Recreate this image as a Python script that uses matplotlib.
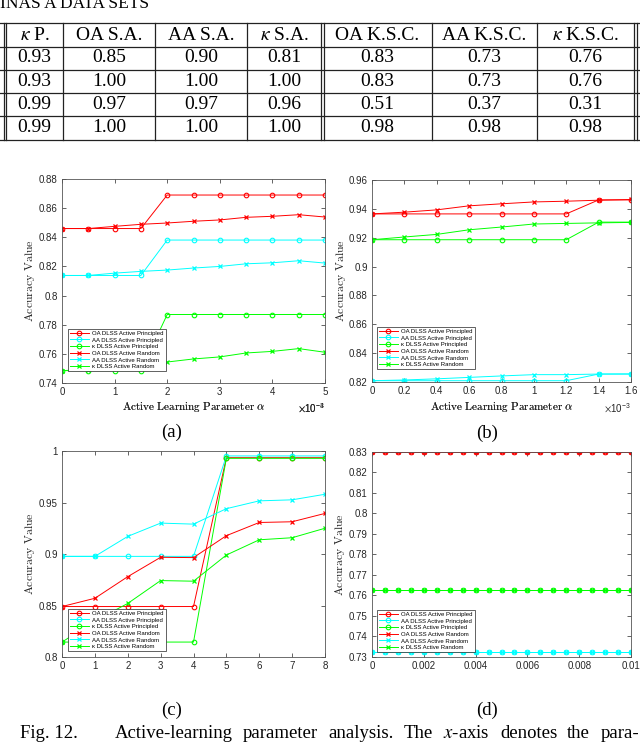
import matplotlib
matplotlib.use('Agg')
import matplotlib.pyplot as plt
from matplotlib.lines import Line2D
from matplotlib import ticker

plt.rcParams['mathtext.fontset'] = 'stix'
plt.rcParams['font.family'] = ['Liberation Serif', 'DejaVu Serif']

# ---- table data ----
table_header = [r'$\kappa$ P.', 'OA S.A.', 'AA S.A.', r'$\kappa$ S.A.',
                'OA K.S.C.', 'AA K.S.C.', r'$\kappa$ K.S.C.']
table_rows = [
    ['0.93', '0.85', '0.90', '0.81', '0.83', '0.73', '0.76'],
    ['0.93', '1.00', '1.00', '1.00', '0.83', '0.73', '0.76'],
    ['0.99', '0.97', '0.97', '0.96', '0.51', '0.37', '0.31'],
    ['0.99', '1.00', '1.00', '1.00', '0.98', '0.98', '0.98'],
]

# ---- panel (a) ----
alpha_a = [0, 0.0005, 0.001, 0.0015, 0.002, 0.0025, 0.003, 0.0035, 0.004, 0.0045, 0.005]
oa_p_a = [0.846, 0.846, 0.846, 0.846, 0.869, 0.869, 0.869, 0.869, 0.869, 0.869, 0.869]
aa_p_a = [0.8138, 0.8138, 0.8138, 0.8138, 0.8381, 0.8381, 0.8381, 0.8381, 0.8381, 0.8381, 0.8381]
k_p_a = [0.7485, 0.7485, 0.7485, 0.7485, 0.787, 0.787, 0.787, 0.787, 0.787, 0.787, 0.787]
oa_r_a = [0.846, 0.846, 0.8475, 0.8489, 0.8498, 0.851, 0.8519, 0.8537, 0.8544, 0.8555, 0.8539]
aa_r_a = [0.8138, 0.8138, 0.8154, 0.8166, 0.8175, 0.8189, 0.82, 0.8218, 0.8225, 0.8239, 0.8223]
k_r_a = [0.7485, 0.7492, 0.7505, 0.7525, 0.7544, 0.7565, 0.7579, 0.7606, 0.7617, 0.7636, 0.7611]

# ---- panel (b) ----
alpha_b = [0, 0.0002, 0.0004, 0.0006, 0.0008, 0.001, 0.0012, 0.0014, 0.0016]
oa_p_b = [0.9365, 0.9365, 0.9365, 0.9365, 0.9365, 0.9365, 0.9365, 0.9462, 0.9462]
aa_p_b = [0.8209, 0.8209, 0.8209, 0.8209, 0.8209, 0.8209, 0.8209, 0.8255, 0.8255]
k_p_b = [0.9186, 0.9186, 0.9186, 0.9186, 0.9186, 0.9186, 0.9186, 0.9308, 0.9308]
oa_r_b = [0.9365, 0.9377, 0.9393, 0.9421, 0.9435, 0.9448, 0.9453, 0.946, 0.9465]
aa_r_b = [0.8209, 0.8214, 0.8222, 0.8232, 0.8242, 0.8251, 0.8251, 0.8255, 0.8256]
k_r_b = [0.9186, 0.9205, 0.9223, 0.9255, 0.9274, 0.9295, 0.9299, 0.9303, 0.9306]

# ---- panel (c) ----
alpha_c = [0, 0.0001, 0.0002, 0.0003, 0.0004, 0.0005, 0.0006, 0.0007, 0.0008]
oa_p_c = [0.849, 0.849, 0.849, 0.849, 0.849, 0.9935, 0.9935, 0.9935, 0.9935]
aa_p_c = [0.8977, 0.8977, 0.8977, 0.8977, 0.8977, 0.9952, 0.9952, 0.9952, 0.9952]
k_p_c = [0.8145, 0.8145, 0.8145, 0.8145, 0.8145, 0.9929, 0.9929, 0.9929, 0.9929]
oa_r_c = [0.849, 0.857, 0.878, 0.8968, 0.8965, 0.9178, 0.9306, 0.9313, 0.9394]
aa_r_c = [0.8977, 0.8977, 0.9171, 0.93, 0.929, 0.944, 0.9516, 0.9526, 0.958]
k_r_c = [0.8145, 0.835, 0.852, 0.8742, 0.8736, 0.899, 0.9138, 0.9158, 0.925]

# ---- panel (d) ----
alpha_d = [0, 0.0005, 0.001, 0.0015, 0.002, 0.0025, 0.003, 0.0035, 0.004, 0.0045, 0.005,
           0.0055, 0.006, 0.0065, 0.007, 0.0075, 0.008, 0.0085, 0.009, 0.0095, 0.01]
oa_p_d = [0.83] * len(alpha_d)
aa_p_d = [0.7325] * len(alpha_d)
k_p_d = [0.7625] * len(alpha_d)
oa_r_d = [0.83] * len(alpha_d)
aa_r_d = [0.7325] * len(alpha_d)
k_r_d = [0.7625] * len(alpha_d)

legend_labels = ['OA DLSS Active Principled', 'AA DLSS Active Principled', 'κ DLSS Active Principled',
                 'OA DLSS Active Random', 'AA DLSS Active Random', 'κ DLSS Active Random']

RED, CYAN, GREEN = '#ff0000', '#00ffff', '#00ff00'
W, H = 640, 746


def px_rect(l, t, r, b):
    return [l / W, (H - b) / H, (r - l) / W, (b - t) / H]


fig = plt.figure(figsize=(6.4, 7.46), dpi=100)
bg = fig.add_axes([0, 0, 1, 1], zorder=-5)
bg.set_xlim(0, W)
bg.set_ylim(H, 0)
bg.axis('off')

# running header (cut at top of page, as in the source)
bg.text(0, 8, 'INAS A DATA SETS', fontsize=12.5, va='baseline', ha='left')

# table grid
hlines = [23, 46.5, 69.5, 92.5, 116, 139.5]
for y in hlines:
    bg.add_line(Line2D([0, 640], [y, y], color='#222222', lw=0.9))
vsingle = [63, 155, 247, 432, 537]
vdouble = [3.5, 6.2, 320.8, 323.5, 633.5, 636.5]
for x in vsingle + vdouble:
    bg.add_line(Line2D([x, x], [23, 139.5], color='#222222', lw=0.9))
col_x = [34.5, 109, 201, 284, 377.5, 484.5, 585]
for cx, txt in zip(col_x, table_header):
    bg.text(cx, 35, txt, fontsize=14, ha='center', va='center')
for r, row in enumerate(table_rows):
    for cx, txt in zip(col_x, row):
        bg.text(cx, 58 + 23.3 * r, txt, fontsize=14, ha='center', va='center')


def panel(rect, x, series, ylim, yticks, xticks, xfmt, exp_txt, leg_rect, ylab_x):
    ax = fig.add_axes(px_rect(*rect))
    styles = [(RED, 'o'), (CYAN, 'o'), (GREEN, 'o'), (RED, 'x'), (CYAN, 'x'), (GREEN, 'x')]
    for (c, m), y, lab in zip(styles, series, legend_labels):
        if m == 'o':
            ax.plot(x, y, color=c, marker='o', ms=3.3, mfc='none', mew=0.8, lw=0.7, label=lab)
        else:
            ax.plot(x, y, color=c, marker='x', ms=2.3, mew=0.9, lw=0.7, label=lab)
    ax.set_xlim(x[0], x[-1])
    ax.set_ylim(*ylim)
    ax.set_yticks(yticks)
    ax.set_xticks(xticks)
    ax.yaxis.set_major_formatter(ticker.FuncFormatter(lambda v, p: f'{round(v, 5):g}'))
    ax.xaxis.set_major_formatter(ticker.FuncFormatter(xfmt))
    ax.tick_params(direction='in', length=3, width=0.5, top=True, right=True,
                   labelsize=7, colors='#262626', pad=3)
    for lbl in ax.get_xticklabels() + ax.get_yticklabels():
        lbl.set_family('Liberation Sans')
    for s in ax.spines.values():
        s.set_color('#555555')
        s.set_linewidth(0.6)
    ax.set_xlabel(r'$\mathrm{Active\ Learning\ Parameter}\ \alpha$', fontsize=8,
                  math_fontfamily='cm', color='#222222')
    ax.set_ylabel(r'$\mathrm{Accuracy\ Value}$', fontsize=8.5, math_fontfamily='cm', color='#222222')
    l, t, r, b = rect
    ax.xaxis.set_label_coords(0.5, (b - 400) / (b - t))
    ax.yaxis.set_label_coords((ylab_x - l) / (r - l), 0.5)
    if exp_txt:
        ax.text(1.0, (b - 408) / (b - t), exp_txt, transform=ax.transAxes, ha='right',
                va='center', fontsize=7, family='Liberation Sans', color='#262626')
    ll, lt, lr, lb = leg_rect
    leg = ax.legend(loc='lower left', bbox_to_anchor=((ll - l) / (r - l), (b - lb) / (b - t)),
                    borderaxespad=0, prop={'family': 'Liberation Sans', 'size': 4.3},
                    fancybox=False, edgecolor='#222222', framealpha=1, handlelength=3.2,
                    labelspacing=0.25, borderpad=0.3, handletextpad=0.6)
    leg.get_frame().set_linewidth(0.5)
    return ax


panel((62, 179, 325, 383), alpha_a, [oa_p_a, aa_p_a, k_p_a, oa_r_a, aa_r_a, k_r_a],
      (0.74, 0.88), [0.74, 0.76, 0.78, 0.8, 0.82, 0.84, 0.86, 0.88],
      [0, 0.001, 0.002, 0.003, 0.004, 0.005], lambda v, p: f'{round(v * 1e3, 4):g}',
      r'$\times\mathregular{10^{-3}}$', (68, 331, 166, 371), 37)
panel((372, 180, 631, 382), alpha_b, [oa_p_b, aa_p_b, k_p_b, oa_r_b, aa_r_b, k_r_b],
      (0.82, 0.96), [0.82, 0.84, 0.86, 0.88, 0.9, 0.92, 0.94, 0.96],
      alpha_b, lambda v, p: f'{round(v * 1e3, 4):g}',
      r'$\times\mathregular{10^{-3}}$', (377, 329, 474, 369), 348)
panel((62, 451, 325, 657), alpha_c, [oa_p_c, aa_p_c, k_p_c, oa_r_c, aa_r_c, k_r_c],
      (0.8, 1.0), [0.8, 0.85, 0.9, 0.95, 1.0],
      alpha_c, lambda v, p: f'{round(v * 1e4, 4):g}',
      r'$\times\mathregular{10^{-4}}$', (68, 603, 166, 651), 37)
panel((372, 452, 631, 657), alpha_d, [oa_p_d, aa_p_d, k_p_d, oa_r_d, aa_r_d, k_r_d],
      (0.73, 0.83), [0.73, 0.74, 0.75, 0.76, 0.77, 0.78, 0.79, 0.8, 0.81, 0.82, 0.83],
      [0, 0.002, 0.004, 0.006, 0.008, 0.01], lambda v, p: f'{round(v, 5):g}',
      None, (377, 603, 473, 652), 347)

# sub-captions
for cx, cy, s in [(172, 432, '(a)'), (487, 433, '(b)'), (172, 710, '(c)'), (487, 710, '(d)')]:
    bg.text(cx, cy, s, fontsize=13.5, ha='center', va='center')

# figure caption (justified words)
bg.text(20, 733, 'Fig. 12.', fontsize=13.5, ha='left', va='center')
words = ['Active-learning', 'parameter', 'analysis.', 'The', r'$x$-axis', 'denotes', 'the', 'para-']
fig.canvas.draw()
renderer = fig.canvas.get_renderer()
objs = [bg.text(0, 733, w, fontsize=13.5, ha='left', va='center') for w in words]
widths = []
for o in objs:
    bb = o.get_window_extent(renderer)
    widths.append(bb.width * W / fig.bbox.width)
x0, x1 = 115, 639
gap = (x1 - x0 - sum(widths)) / (len(words) - 1)
xc = x0
for o, w in zip(objs, widths):
    o.set_x(xc)
    xc += w + gap

fig.savefig('out.png', dpi=100)
